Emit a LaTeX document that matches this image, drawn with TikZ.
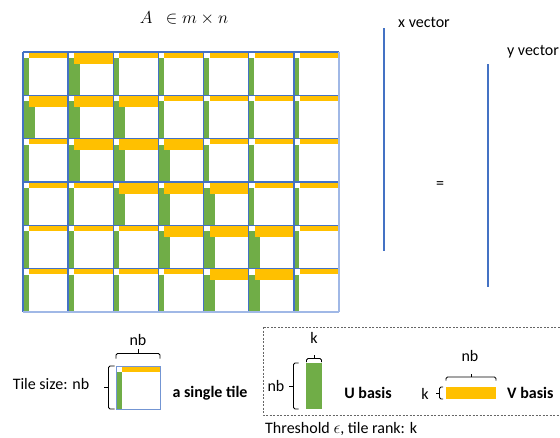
\documentclass[tikz,border=0pt]{standalone}
\usepackage{fontspec}
\setmainfont{Carlito}
\definecolor{tileblue}{RGB}{68,114,196}
\definecolor{lightblue}{RGB}{160,184,230}
\definecolor{ugreen}{RGB}{112,173,71}
\definecolor{vyellow}{RGB}{255,192,0}
\tikzset{
  lbl/.style={font=\fontsize{16}{19}\selectfont, inner sep=0pt},
  blbl/.style={font=\fontsize{16}{19}\selectfont\bfseries, inner sep=0pt},
  gridline/.style={draw=tileblue, line width=1.4pt},
  outerline/.style={draw=lightblue, line width=1.4pt},
  vecline/.style={draw=tileblue, line width=1.3pt},
  bracestroke/.style={draw=black, line width=0.9pt, rounded corners=1.6pt},
  legendbox/.style={draw=gray!80!black, line width=0.7pt, dash pattern=on 2pt off 1.5pt}
}
\begin{document}
\begin{tikzpicture}[x=1pt,y=-1pt]
\useasboundingbox (0,0) rectangle (560,437);
\fill[white] (0,0) rectangle (560,437);

% title
\node[lbl] (title) at (184,18) {$A\;\ \in m\times n$};

% matrix tiles
\def\tw{45.143}
\def\th{43.333}
\foreach \r [count=\i from 0] in {0,1,0,0,0,0,0,
                                  1,1,1,0,0,0,0,
                                  0,1,1,1,0,0,0,
                                  0,0,1,1,1,0,0,
                                  0,0,0,1,1,1,0,
                                  0,0,0,0,1,1,0} {
  \pgfmathtruncatemacro\cc{mod(\i,7)}
  \pgfmathtruncatemacro\rr{div(\i,7)}
  \pgfmathsetmacro\xa{23+\cc*\tw}
  \pgfmathsetmacro\ya{52+\rr*\th}
  \pgfmathsetmacro\kk{\r==1 ? 11.5 : 5.5}
  \fill[ugreen] (\xa,\ya+6) rectangle (\xa+\kk,\ya+\th);
  \fill[vyellow] (\xa+6,\ya) rectangle (\xa+\tw,\ya+\kk);
}
\foreach \c in {0,...,6} {
  \draw[gridline] (23+\c*\tw,52) -- (23+\c*\tw,312);
}
\foreach \rw in {0,...,5} {
  \draw[gridline] (23,52+\rw*\th) -- (339,52+\rw*\th);
}
\draw[outerline] (339,52) -- (339,312);
\draw[outerline] (23,312) -- (339,312);

% vectors
\coordinate (xtop) at (384,28);
\coordinate (xbot) at (384,251);
\coordinate (ytop) at (488,64);
\coordinate (ybot) at (488,287);
\draw[vecline] (xtop) -- (xbot);
\draw[vecline] (ytop) -- (ybot);
\node[lbl] (xlab) at (424,22) {x vector};
\node[lbl] (ylab) at (533,52) {y vector};
\node[lbl] (eq) at (440,185) {=};

% single tile legend
\node[lbl] (tilesize) at (51,384) {Tile size: nb};
\fill[ugreen] (116,372) rectangle (121.5,409);
\fill[vyellow] (122,366) rectangle (160,371.5);
\draw[draw=tileblue!75, line width=1pt] (116,366) rectangle (160,409);
% left brace
\draw[bracestroke] (114.5,366) -- (108.5,366) -- (108.5,409) -- (114.5,409);
\draw[bracestroke] (108.5,387.5) -- (104,387.5);
% top brace
\draw[bracestroke] (116,358.5) -- (116,353.5) -- (160,353.5) -- (160,358.5);
\draw[bracestroke] (138,353.5) -- (138,349);
\node[lbl] (nbtile) at (138,340) {nb};
\node[blbl] (single) at (210,393) {a single tile};

% dashed box legend
\draw[legendbox] (263,327) rectangle (570,415);
\fill[ugreen] (306,363) rectangle (322,409);
\draw[bracestroke] (298.5,363) -- (293.5,363) -- (293.5,409) -- (298.5,409);
\draw[bracestroke] (293.5,386) -- (289,386);
\draw[bracestroke] (306.5,362) -- (306.5,358.5) -- (321.5,358.5) -- (321.5,362);
\draw[bracestroke] (314,358.5) -- (314,355);
\node[lbl] (ktop) at (314,338) {k};
\node[lbl] (nbleft) at (276,386) {nb};
\node[blbl] (ubasis) at (368,393) {U basis};

\fill[vyellow] (446,387) rectangle (496,399);
\draw[bracestroke] (443,387) -- (439.5,387) -- (439.5,399) -- (443,399);
\draw[bracestroke] (439.5,393) -- (436,393);
\draw[bracestroke] (446,380.5) -- (446,377) -- (496,377) -- (496,380.5);
\draw[bracestroke] (471,377) -- (471,373.5);
\node[lbl] (nbtop) at (470,356) {nb};
\node[lbl] (kleft) at (425,394) {k};
\node[blbl, anchor=west] (vbasis) at (507,393) {V basis};

\node[lbl, anchor=west] (thresh) at (265,429) {Threshold $\epsilon$, tile rank: k};
\end{tikzpicture}
\end{document}
